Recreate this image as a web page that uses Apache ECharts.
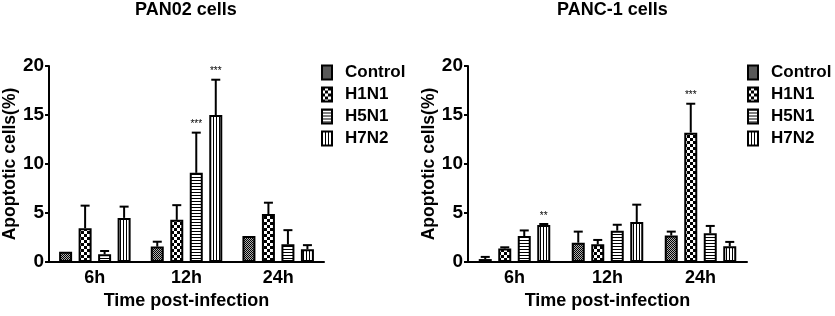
<!DOCTYPE html>
<html>
<head>
<meta charset="utf-8">
<script src="https://cdn.jsdelivr.net/npm/echarts@6/dist/echarts.min.js"></script>
<style>
  html, body { margin: 0; padding: 0; background: #fff; }
  #chart { width: 835px; height: 316px; }
</style>
</head>
<body>
<div id="chart"></div>
<script>
const categories = ["6h", "12h", "24h"];
const groups = ["Control", "H1N1", "H5N1", "H7N2"];

// PAN02 cells: mean and top of error bar, one row per group
const pan02Mean = [
  [1.05, 1.57, 2.65],
  [3.45, 4.3, 4.9],
  [0.78, 9.1, 1.8],
  [4.5, 15.0, 1.3],
];
const pan02Top = [
  [1.1, 2.07, 2.65],
  [5.75, 5.8, 6.05],
  [1.12, 13.2, 3.25],
  [5.65, 18.6, 1.72],
];
const pan02Stars = [
  ["", "", ""],
  ["", "", ""],
  ["", "***", ""],
  ["", "***", ""],
];

// PANC-1 cells
const panc1Mean = [
  [0.3, 1.97, 2.7],
  [1.38, 1.8, 13.2],
  [2.65, 3.2, 2.93],
  [3.78, 4.08, 1.6],
];
const panc1Top = [
  [0.52, 3.1, 3.1],
  [1.5, 2.25, 16.15],
  [3.22, 3.8, 3.68],
  [3.88, 5.85, 2.05],
];
const panc1Stars = [
  ["", "", ""],
  ["", "", "***"],
  ["", "", ""],
  ["**", "", ""],
];

const FONT = "Liberation Sans";
const BAR_W = 13;
const STEP = 19.5;

function makePattern(w, h, bg, cells) {
  const c = document.createElement("canvas");
  c.width = w; c.height = h;
  const g = c.getContext("2d");
  g.fillStyle = bg;
  g.fillRect(0, 0, w, h);
  g.fillStyle = "#000";
  cells.forEach(r => g.fillRect(r[0], r[1], r[2], r[3]));
  return { image: c, repeat: "repeat" };
}

const patterns = [
  makePattern(2, 2, "#b0b0b0", [[0, 0, 1, 1], [1, 1, 1, 1]]),
  makePattern(6, 6, "#fff", [[0, 0, 3, 3], [3, 3, 3, 3]]),
  makePattern(4, 3, "#fff", [[0, 0, 4, 1]]),
  makePattern(3, 4, "#fff", [[0, 0, 1, 4]]),
];

function errRenderer(stars) {
  return function (params, api) {
    const ci = api.value(0), si = api.value(3);
    const base = api.coord([ci, api.value(1)]);
    const hi = api.coord([ci, api.value(2)]);
    const x = base[0] + (si - 1.5) * STEP;
    const children = [];
    if (base[1] - hi[1] > 0.5) {
      children.push({
        type: "line",
        shape: { x1: x, y1: base[1], x2: x, y2: hi[1] },
        style: { stroke: "#000", lineWidth: 2 }
      });
      children.push({
        type: "line",
        shape: { x1: x - 4.5, y1: hi[1], x2: x + 4.5, y2: hi[1] },
        style: { stroke: "#000", lineWidth: 2 }
      });
    }
    const s = stars[si][ci];
    if (s) {
      children.push({
        type: "text",
        style: {
          text: s, x: x, y: hi[1] - 3, align: "center", verticalAlign: "bottom",
          font: "10px " + FONT, fill: "#000"
        }
      });
    }
    return { type: "group", children: children };
  };
}

function errData(mean, top) {
  const out = [];
  for (let s = 0; s < groups.length; s++) {
    for (let c = 0; c < categories.length; c++) {
      out.push([c, mean[s][c], top[s][c], s]);
    }
  }
  return out;
}

function axisPair(idx) {
  const x = {
    type: "category", gridIndex: idx, data: categories,
    name: "Time post-infection", nameLocation: "middle", nameGap: 30,
    nameTextStyle: { fontFamily: FONT, fontWeight: "bold", fontSize: 18, color: "#000" },
    axisLine: { lineStyle: { color: "#000", width: 2 } },
    axisTick: { alignWithLabel: true, length: 4, lineStyle: { color: "#000", width: 1.5 } },
    axisLabel: { fontFamily: FONT, fontWeight: "bold", fontSize: 18, color: "#000", margin: 7 }
  };
  const y = {
    type: "value", gridIndex: idx, min: 0, max: 20, interval: 5,
    name: "Apoptotic cells(%)", nameLocation: "middle", nameGap: 27, nameRotate: 90,
    nameTextStyle: { fontFamily: FONT, fontWeight: "bold", fontSize: 17.5, color: "#000" },
    axisLine: { show: true, lineStyle: { color: "#000", width: 2 } },
    axisTick: { show: true, length: 4, lineStyle: { color: "#000", width: 2 } },
    axisLabel: { fontFamily: FONT, fontWeight: "bold", fontSize: 19, color: "#000", margin: 5 },
    splitLine: { show: false }
  };
  return [x, y];
}

function barSeries(idx, mean) {
  return groups.map((g, i) => ({
    name: g, type: "bar", xAxisIndex: idx, yAxisIndex: idx,
    data: mean[i], barWidth: BAR_W, barGap: "50%",
    itemStyle: { color: patterns[i], borderColor: "#000", borderWidth: 2 },
    animation: false
  }));
}

const a0 = axisPair(0), a1 = axisPair(1);

const chart = echarts.init(document.getElementById("chart"), null, { renderer: "canvas" });
chart.setOption({
  backgroundColor: "#fff",
  animation: false,
  title: [
    { text: "PAN02 cells", left: 135, top: 1, padding: 0,
      textStyle: { fontFamily: FONT, fontWeight: "bold", fontSize: 18, color: "#000" } },
    { text: "PANC-1 cells", left: 557, top: 1, padding: 0,
      textStyle: { fontFamily: FONT, fontWeight: "bold", fontSize: 18, color: "#000" } }
  ],
  legend: [321, 747].map(l => ({
    data: groups, left: l, top: 64, orient: "vertical", padding: 0,
    icon: "rect", itemWidth: 10, itemHeight: 14, itemGap: 5, selectedMode: false,
    textStyle: { fontFamily: FONT, fontWeight: "bold", fontSize: 17, color: "#000",
      lineHeight: 14, padding: [0, 0, 0, 8] }
  })),
  grid: [
    { left: 48, top: 66, width: 276, height: 196 },
    { left: 468, top: 66, width: 279, height: 196 }
  ],
  xAxis: [a0[0], a1[0]],
  yAxis: [a0[1], a1[1]],
  series: [
    ...barSeries(0, pan02Mean),
    ...barSeries(1, panc1Mean),
    { type: "custom", xAxisIndex: 0, yAxisIndex: 0, renderItem: errRenderer(pan02Stars),
      data: errData(pan02Mean, pan02Top), z: 3, silent: true },
    { type: "custom", xAxisIndex: 1, yAxisIndex: 1, renderItem: errRenderer(panc1Stars),
      data: errData(panc1Mean, panc1Top), z: 3, silent: true }
  ]
});
</script>
</body>
</html>
